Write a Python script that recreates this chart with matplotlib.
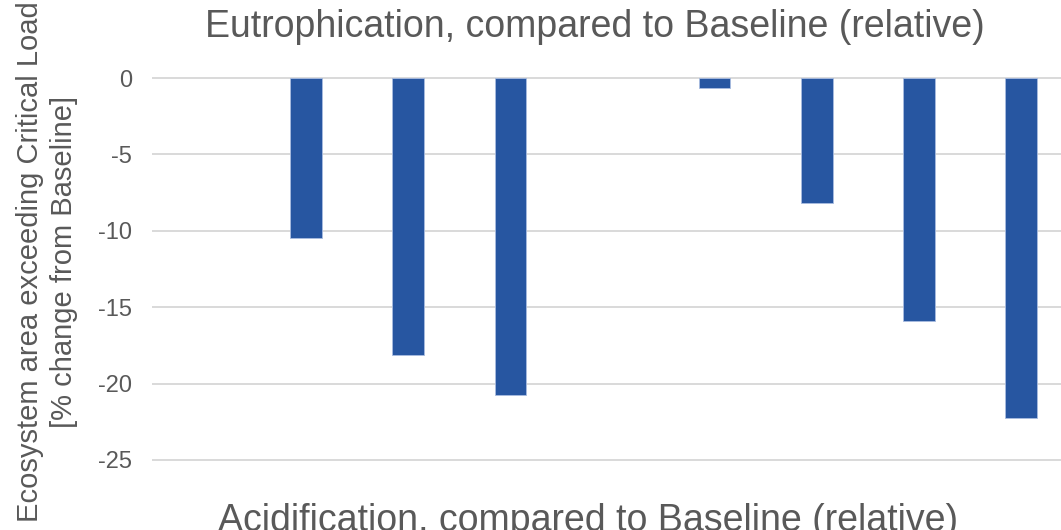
import matplotlib
matplotlib.use("Agg")
from matplotlib import pyplot as plt
import numpy as np

# scenario slots along the x axis (two empty group separators)
categories = ["", "S1", "S2", "S3", "", "S4", "S5", "S6", "S7"]
values = [np.nan, -10.5, -18.1, -20.75, np.nan, -0.65, -8.2, -15.9, -22.25]
yticks = [0, -5, -10, -15, -20, -25]

text_col = "#595959"
bar_col = "#2756A1"
grid_col = "#D9D9D9"

plt.rcParams["font.family"] = ["Liberation Sans", "DejaVu Sans"]

fig = plt.figure(figsize=(10.61, 5.30), dpi=100)
# plot area runs past the right edge of the image
ax = fig.add_axes([153 / 1061, 70 / 530, 919 / 1061, 382 / 530])

x = np.arange(len(categories))
ax.bar(x, values, width=0.31, color=bar_col, edgecolor="#A9BDE0", linewidth=0.6, zorder=3)

ax.set_xlim(-0.5, len(categories) - 0.5)
ax.set_ylim(-25, 0)
ax.set_yticks(yticks)
ax.set_yticklabels([str(v) for v in yticks], fontsize=17, color=text_col)
ax.set_xticks([])
ax.tick_params(axis="y", length=0, pad=15)
ax.yaxis.grid(True, color=grid_col, linewidth=1.4)
for gl in ax.get_ygridlines():
    gl.set_clip_on(False)
ax.set_axisbelow(True)
for side in ax.spines.values():
    side.set_visible(False)

fig.text(47 / 1061, 1 - 262 / 530,
         "Ecosystem area exceeding Critical Load\n[% change from Baseline]",
         fontsize=21, color=text_col, rotation=90, ha="center", va="center",
         multialignment="center", linespacing=1.25)

fig.text(205 / 1061, 1 - 37 / 530, "Eutrophication, compared to Baseline (relative)",
         fontsize=27, color=text_col, ha="left", va="baseline")
fig.text(218 / 1061, 1 - 531 / 530, "Acidification, compared to Baseline (relative)",
         fontsize=27, color=text_col, ha="left", va="baseline")

plt.savefig("out.png", dpi=100)
